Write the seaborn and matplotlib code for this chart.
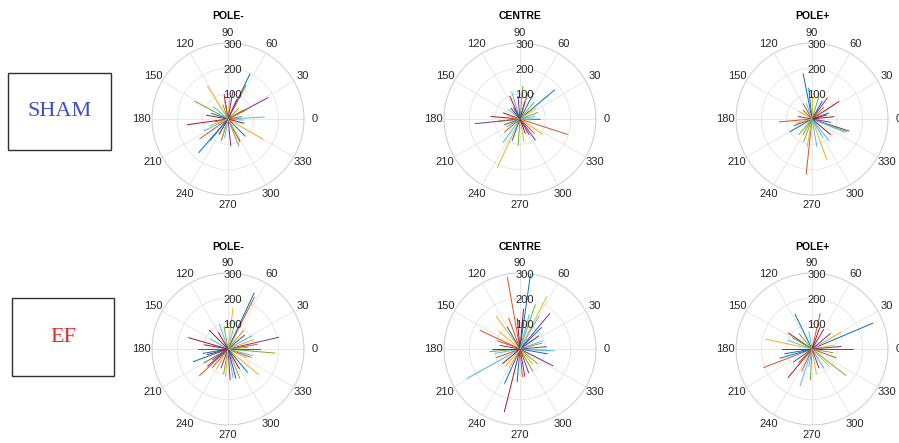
import numpy as np
import pandas as pd
import matplotlib
matplotlib.use("Agg")
import matplotlib.pyplot as plt
from matplotlib.patches import Rectangle
import seaborn as sns

sns.set_theme(style="white")
plt.rcParams["font.family"] = ["Liberation Sans", "DejaVu Sans"]

# ---- data: angle (deg) and length (um) of each cell vector ----
rows = ["SHAM", "EF"]
cols = ["POLE-", "CENTRE", "POLE+"]
row_colors = ["#3F4FC9", "#E8262B"]

sham_pole_minus_ang = [64, 62, 122, 28, 152, 3, 188, 229, 215, 330, 276, 292, 206, 99, 253, 100, 85, 66,
                       26, 356, 170, 161, 192, 252, 298, 45, 140, 240, 315, 10, 200, 80, 110, 260, 345, 230, 30, 300]
sham_pole_minus_len = [198, 150, 153, 180, 149, 144, 163, 176, 136, 160, 107, 115, 105, 97, 88, 70, 83, 83,
                       83, 61, 87, 69, 53, 90, 100, 60, 75, 70, 95, 55, 80, 110, 60, 75, 65, 110, 70, 90]

sham_centre_ang = [40, 342, 245, 186, 85, 107, 114, 62, 73, 326, 306, 266, 234, 175, 359, 186, 35, 95,
                   50, 140, 160, 200, 220, 280, 300, 20, 10, 130, 250, 315, 170, 75, 210, 355, 290, 120]
sham_centre_len = [179, 197, 211, 178, 130, 112, 98, 116, 114, 109, 103, 104, 115, 114, 80, 100, 74, 90,
                   85, 60, 70, 65, 80, 90, 70, 75, 60, 55, 90, 80, 50, 70, 60, 45, 60, 50]

sham_pole_plus_ang = [101, 264, 290, 342, 340, 338, 33, 96, 185, 260, 54, 73, 308, 6, 210, 120, 150, 200,
                      230, 280, 320, 20, 45, 90, 170, 250, 300, 15, 60, 135, 195, 350, 240, 110]
sham_pole_plus_len = [182, 219, 172, 154, 145, 140, 127, 123, 130, 112, 102, 93, 107, 87, 100, 70, 60, 75,
                      80, 110, 95, 70, 65, 90, 55, 95, 85, 60, 80, 50, 60, 75, 70, 65]

ef_pole_minus_ang = [65, 63, 83, 13, 355, 29, 164, 200, 223, 320, 274, 292, 109, 135, 0, 9, 335, 220,
                     100, 150, 170, 190, 210, 240, 250, 260, 280, 300, 310, 340, 20, 40, 50, 75, 120, 180,
                     230, 265, 285, 5, 345, 195, 215]
ef_pole_minus_len = [244, 230, 164, 206, 187, 107, 162, 146, 154, 157, 122, 124, 104, 105, 127, 116, 81, 105,
                     90, 80, 95, 100, 110, 90, 80, 100, 115, 90, 120, 95, 110, 85, 95, 110, 75, 120,
                     95, 110, 120, 80, 100, 85, 75]

ef_centre_ang = [82, 100, 63, 50, 71, 209, 256, 246, 155, 126, 333, 357, 357, 85, 350, 200, 230, 280,
                 300, 20, 35, 45, 110, 140, 170, 185, 190, 220, 265, 275, 310, 5, 15, 75, 95, 120, 160,
                 240, 290, 320, 60, 180]
ef_centre_len = [303, 288, 233, 183, 185, 240, 255, 149, 174, 160, 146, 117, 136, 158, 110, 100, 90, 110,
                 100, 95, 90, 120, 130, 110, 80, 120, 100, 90, 130, 110, 80, 105, 90, 140, 120, 100, 95,
                 85, 100, 90, 150, 110]

ef_pole_plus_ang = [23, 201, 168, 0, 322, 252, 230, 116, 77, 30, 59, 267, 302, 146, 196, 340, 10, 40,
                    130, 160, 180, 215, 245, 280, 290, 350, 100, 70, 190, 225, 315, 5, 150, 260]
ef_pole_plus_len = [261, 204, 186, 163, 170, 152, 147, 153, 144, 134, 90, 123, 89, 113, 132, 100, 90, 95,
                    80, 100, 120, 90, 95, 100, 80, 85, 70, 90, 110, 75, 95, 115, 90, 70]

angles = [[sham_pole_minus_ang, sham_centre_ang, sham_pole_plus_ang],
          [ef_pole_minus_ang, ef_centre_ang, ef_pole_plus_ang]]
lengths = [[sham_pole_minus_len, sham_centre_len, sham_pole_plus_len],
           [ef_pole_minus_len, ef_centre_len, ef_pole_plus_len]]

theta_ticks = list(range(0, 360, 30))
r_ticks = [100, 200, 300]
r_max = 300
matlab_colors = ["#0072BD", "#D95319", "#EDB120", "#7E2F8E", "#77AC30", "#4DBEEE", "#A2142F"]

W, H = 899, 443
fig = plt.figure(figsize=(W / 100, H / 100), dpi=100)

centers_x = [228, 520, 812]
centers_y = [119, 349]
title_y = [16, 247]
R = 76

for i in range(2):
    for j in range(3):
        cx, cy = centers_x[j], centers_y[i]
        ax = fig.add_axes([(cx - R) / W, (H - cy - R) / H, 2 * R / W, 2 * R / H],
                          projection="polar")
        ang = angles[i][j]
        ln = lengths[i][j]
        recs = []
        for k, (a, l) in enumerate(zip(ang, ln)):
            recs.append({"id": k, "theta": np.deg2rad(a), "r": 0.0})
            recs.append({"id": k, "theta": np.deg2rad(a), "r": float(l)})
        df = pd.DataFrame(recs)
        pal = [matlab_colors[k % len(matlab_colors)] for k in range(len(ang))]
        sns.lineplot(data=df, x="theta", y="r", hue="id", units="id", estimator=None,
                     sort=False, palette=pal, legend=False, linewidth=0.7, ax=ax)
        ax.set_xlabel("")
        ax.set_ylabel("")
        ax.set_ylim(0, r_max)
        ax.set_thetagrids(theta_ticks, [str(t) for t in theta_ticks])
        ax.set_rticks(r_ticks)
        ax.set_yticklabels([])
        ax.grid(True, color="#E3E3E3", linewidth=0.6)
        ax.spines["polar"].set_color("#D0D0D0")
        ax.spines["polar"].set_linewidth(0.7)
        ax.tick_params(axis="x", labelsize=8, colors="#262626", pad=-5.5)
        # radial tick labels just right of the 90 degree spoke
        for rv in r_ticks:
            rpx = rv / r_max * 74
            th = np.arctan2(rpx, 5.0)
            ax.text(th, rv - 8 if rv == r_max else rv - 5, str(rv), fontsize=8, color="#262626",
                    ha="center", va="center")
        fig.text(cx / W, 1 - title_y[i] / H, cols[j], fontsize=7.5, fontweight="bold",
                 color="black", ha="center", va="center")

# group label boxes
boxes = [(8, 73, 111, 150), (12, 298, 114, 376)]
for (x0, y0, x1, y1), name, c in zip(boxes, rows, row_colors):
    fig.add_artist(Rectangle((x0 / W, 1 - y1 / H), (x1 - x0) / W, (y1 - y0) / H,
                             transform=fig.transFigure, fill=False,
                             edgecolor="#303030", linewidth=1.0))
    fig.text((x0 + x1) / 2 / W, 1 - (y0 + y1) / 2 / H, name, color=c,
             fontsize=16, family=["Liberation Serif", "DejaVu Serif"],
             ha="center", va="center")

fig.savefig("out.png", dpi=100)
